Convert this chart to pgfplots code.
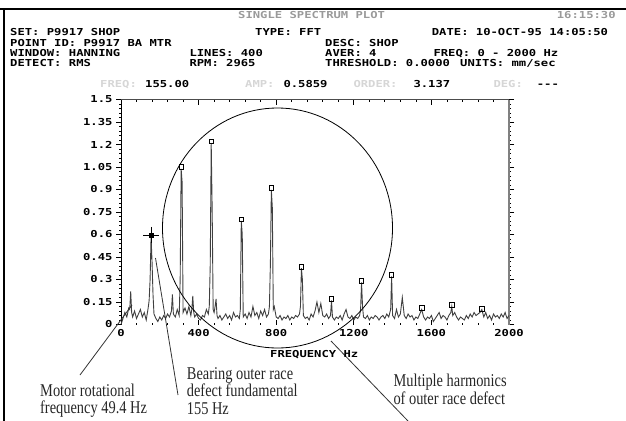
\documentclass[border=0pt]{standalone}
\usepackage{fontspec}
\usepackage{pgfplots}
\pgfplotsset{compat=1.18}
\newfontfamily\monofam[FakeStretch=1.27]{DejaVu Sans Mono}
\newfontfamily\seriffam[FakeStretch=0.8]{Liberation Serif}
\newcommand\M{\monofam\bfseries\fontsize{9.6bp}{11bp}\selectfont}
\newcommand\SR{\seriffam\fontsize{18bp}{17.5bp}\selectfont}
\definecolor{specgray}{HTML}{404040}
\definecolor{hdrgray}{HTML}{9A9A9A}
\definecolor{lightlbl}{HTML}{D6D6D6}
\newcommand\T[4][black]{\node[anchor=base west, inner sep=0pt, text=#1, font=\M] at (#2bp,-#3bp) {#4};}
\newcommand\Ser[3]{\node[anchor=base west, inner sep=0pt, text=black!85, font=\SR] at (#1bp,-#2bp) {#3};}
\begin{document}
\begin{tikzpicture}
\path[use as bounding box] (0,0) rectangle (626bp,-421bp);
\draw[line width=1.3bp] (0,-9bp) -- (626bp,-9bp);
\draw[line width=1.3bp] (4bp,-9bp) -- (4bp,-421bp);
% header
\T[hdrgray]{238}{18.3}{SINGLE SPECTRUM PLOT}
\T[hdrgray]{556.7}{18.3}{16:15:30}
\T{10}{35}{SET: P9917 SHOP}
\T{255}{35}{TYPE: FFT}
\T{431.7}{35}{DATE: 10-OCT-95 14:05:50}
\T{10}{46}{POINT ID: P9917 BA MTR}
\T{325}{46}{DESC: SHOP}
\T{10}{56}{WINDOW: HANNING}
\T{189.3}{56}{LINES: 400}
\T{325}{56}{AVER: 4}
\T{433.3}{56}{FREQ: 0 - 2000 Hz}
\T{10}{66.5}{DETECT: RMS}
\T{189.3}{66.5}{RPM: 2965}
\T{325}{66.5}{THRESHOLD: 0.0000}
\T{460}{66.5}{UNITS: mm/sec}
\T[lightlbl]{100}{87.3}{FREQ:}
\T{145}{87.3}{155.00}
\T[lightlbl]{245}{87.3}{AMP:}
\T{283.3}{87.3}{0.5859}
\T[lightlbl]{353.3}{87.3}{ORDER:}
\T{413.3}{87.3}{3.137}
\T[lightlbl]{493.3}{87.3}{DEG:}
\T{536.7}{87.3}{---}
\begin{axis}[
  at={(121bp,-324.5bp)}, anchor=south west,
  scale only axis, width=388bp, height=225bp,
  xmin=0, xmax=2000, ymin=0, ymax=1.5,
  clip=false,
  axis line style={draw=none},
  xtick={0,400,800,1200,1600,2000},
  xticklabels={0,400,800,1200,1600,2000},
  ytick={0,0.15,0.3,0.45,0.6,0.75,0.9,1.05,1.2,1.35,1.5},
  yticklabels={0,0.15,0.3,0.45,0.6,0.75,0.9,1.05,1.2,1.35,1.5},
  minor x tick num=4, minor y tick num=4,
  xtick align=inside, ytick align=outside,
  major tick length=5bp, minor tick length=2bp,
  tick style={black, line width=0.7bp},
  ticklabel style={font=\M},
  xticklabel style={yshift=-1bp},
]
\draw[black, line width=0.9bp] (rel axis cs:0,0) -- (rel axis cs:0,1);
\draw[black!70, line width=1bp] (rel axis cs:0,1) -- (rel axis cs:1,1);
\draw[black!50, line width=1.8bp] (rel axis cs:1,1) -- (rel axis cs:1,0);
\addplot[specgray, line width=0.9bp] coordinates {
(0,0.00) (10,0.04) (20,0.08) (30,0.05) (40,0.11) (45,0.10) (50,0.22) (55,0.08) (60,0.05) (70,0.09)
(80,0.04) (90,0.07) (100,0.10) (110,0.05) (120,0.08) (130,0.03) (140,0.11) (145,0.16) (150,0.30) (155,0.586)
(160,0.42) (165,0.20) (170,0.07) (180,0.04) (190,0.02) (200,0.05) (210,0.03) (220,0.06) (230,0.04) (240,0.07)
(250,0.05) (260,0.09) (265,0.20) (270,0.07) (280,0.05) (290,0.10) (300,0.06) (305,0.30) (310,1.037) (315,0.95)
(320,0.08) (330,0.11) (340,0.07) (350,0.12) (360,0.06) (365,0.10) (370,0.19) (375,0.08) (380,0.05) (390,0.07)
(400,0.04) (410,0.03) (420,0.06) (430,0.05) (440,0.10) (450,0.07) (455,0.12) (460,0.40) (465,1.208) (470,0.76)
(475,0.10) (480,0.08) (485,0.12) (490,0.17) (495,0.06) (500,0.04) (510,0.06) (520,0.03) (530,0.05) (540,0.07)
(550,0.04) (560,0.06) (570,0.03) (580,0.08) (590,0.05) (600,0.06) (610,0.04) (615,0.10) (620,0.69) (625,0.60)
(630,0.05) (640,0.07) (650,0.04) (660,0.08) (670,0.05) (680,0.12) (690,0.06) (700,0.08) (710,0.04) (720,0.09)
(730,0.06) (740,0.10) (750,0.05) (760,0.07) (765,0.12) (770,0.40) (775,0.897) (780,0.78) (785,0.10) (790,0.12)
(800,0.05) (810,0.04) (820,0.06) (830,0.03) (840,0.05) (850,0.04) (860,0.06) (870,0.03) (880,0.05) (890,0.04)
(900,0.06) (910,0.05) (920,0.07) (925,0.12) (930,0.375) (935,0.30) (940,0.06) (950,0.04) (960,0.05) (970,0.03)
(980,0.07) (990,0.05) (1000,0.09) (1010,0.15) (1020,0.08) (1030,0.14) (1040,0.06) (1050,0.05) (1060,0.07) (1070,0.04)
(1080,0.06) (1085,0.16) (1090,0.05) (1100,0.03) (1110,0.05) (1120,0.04) (1130,0.06) (1140,0.03) (1150,0.07) (1160,0.10)
(1170,0.05) (1180,0.04) (1190,0.06) (1200,0.03) (1210,0.05) (1220,0.04) (1230,0.06) (1235,0.10) (1240,0.28) (1245,0.12)
(1250,0.05) (1260,0.04) (1270,0.06) (1280,0.03) (1290,0.05) (1300,0.04) (1310,0.06) (1320,0.05) (1330,0.03) (1340,0.05)
(1350,0.06) (1360,0.04) (1370,0.07) (1380,0.05) (1390,0.10) (1395,0.32) (1400,0.06) (1410,0.04) (1420,0.10) (1430,0.05)
(1440,0.07) (1450,0.18) (1460,0.06) (1470,0.04) (1480,0.07) (1490,0.05) (1500,0.06) (1510,0.03) (1520,0.05) (1530,0.04)
(1540,0.07) (1550,0.10) (1560,0.05) (1570,0.03) (1580,0.05) (1590,0.04) (1600,0.06) (1610,0.02) (1620,0.04) (1630,0.06)
(1640,0.08) (1650,0.04) (1660,0.06) (1670,0.05) (1680,0.03) (1690,0.06) (1700,0.08) (1705,0.12) (1710,0.06) (1720,0.08)
(1730,0.05) (1740,0.03) (1750,0.05) (1760,0.04) (1770,0.03) (1780,0.06) (1790,0.04) (1800,0.07) (1810,0.05) (1820,0.08)
(1830,0.06) (1840,0.07) (1850,0.08) (1860,0.10) (1870,0.05) (1880,0.08) (1890,0.04) (1900,0.06) (1910,0.03) (1920,0.07)
(1930,0.05) (1940,0.06) (1950,0.04) (1960,0.07) (1970,0.05) (1980,0.08) (1990,0.04) (2000,0.06)
};
\addplot[only marks, mark=square, mark size=2.2bp, black, mark options={line width=0.7bp}] coordinates {
(310,1.05) (465,1.22) (620,0.70) (775,0.91) (930,0.385) (1085,0.17) (1240,0.29) (1395,0.33) (1550,0.11) (1705,0.13) (1860,0.105)
};
\addplot[only marks, mark=+, mark size=8bp, black, mark options={line width=0.8bp}] coordinates {(155,0.597)};
\addplot[only marks, mark=square*, mark size=2bp, black] coordinates {(155,0.597)};
\end{axis}
% circle and annotations
\draw[black, line width=0.8bp] (277.5bp,-228bp) ellipse [x radius=115bp, y radius=120bp];
\draw[black!80, line width=0.8bp] (80bp,-375bp) -- (132bp,-305bp);
\draw[black!80, line width=0.8bp] (178bp,-395bp) -- (155.5bp,-258bp);
\draw[black!80, line width=0.8bp] (331bp,-341bp) -- (408bp,-421bp);
\T{270}{357}{FREQUENCY Hz}
\Ser{40}{396}{Motor rotational}
\Ser{40}{413.5}{frequency 49.4 Hz}
\Ser{186.7}{379.3}{Bearing outer race}
\Ser{186.7}{396.7}{defect fundamental}
\Ser{186.7}{414}{155 Hz}
\Ser{393.3}{386}{Multiple harmonics}
\Ser{393.3}{404}{of outer race defect}
\end{tikzpicture}
\end{document}
